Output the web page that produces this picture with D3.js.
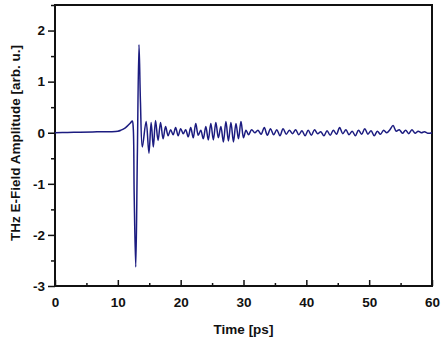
<html lang="en">
  <head>
    <meta charset="UTF-8" />
    <title>THz pulse</title>
    <script src="https://d3js.org/d3.v7.min.js"></script>
    <style>
      * {
        margin: 0;
        padding: 0;
      }
      body {
        background: #fff;
      }
    </style>
  </head>
  <body>
    <div id="chart"></div>
    <script>
      // time points [ps] and field amplitude [arb. u.]
      const times = [
        0, 2, 4, 6, 8, 9, 10, 10.5, 11, 11.5, 12, 12.3, 12.45, 12.6, 12.85,
        13.1, 13.37, 13.6, 13.9, 14.5, 14.95, 15.3, 15.65, 16.0, 16.4, 16.8,
        17.2, 17.6, 18.0, 18.4, 18.8, 19.2, 19.6, 20.0, 20.4, 20.8, 21.2, 21.6,
        22.0, 22.4, 22.8, 23.2, 23.6, 24.0, 24.4, 24.8, 25.2, 25.6, 26.0, 26.4,
        26.8, 27.2, 27.6, 28.0, 28.4, 28.8, 29.2, 29.6, 30.0, 30.4, 30.8, 31.3,
        31.8, 32.3, 32.8, 33.3, 33.8, 34.3, 34.8, 35.3, 35.8, 36.3, 36.8, 37.3,
        37.8, 38.3, 38.8, 39.3, 39.8, 40.3, 40.8, 41.3, 41.8, 42.3, 42.8, 43.3,
        43.8, 44.3, 44.8, 45.3, 45.8, 46.3, 46.8, 47.3, 47.8, 48.3, 48.8, 49.3,
        49.8, 50.3, 50.8, 51.3, 51.8, 52.3, 52.8, 53.3, 53.8, 54.3, 54.8, 55.3,
        55.8, 56.3, 56.8, 57.3, 57.8, 58.3, 58.8, 59.3, 60,
      ];
      const amplitude = [
        0, 0.005, 0.01, 0.015, 0.02, 0.02, 0.03, 0.05, 0.08, 0.13, 0.19, 0.23,
        0.1, -1.2, -2.63, -0.5, 1.72, 0.6, -0.28, 0.22, -0.4, 0.2, -0.28, 0.24,
        -0.15, 0.2, -0.12, 0.12, -0.06, 0.06, -0.04, 0.1, -0.06, 0.08, -0.02,
        0.06, -0.08, 0.1, -0.1, 0.18, -0.05, 0.05, -0.12, 0.12, -0.14, 0.18,
        -0.14, 0.2, -0.1, 0.12, -0.18, 0.22, -0.16, 0.2, -0.18, 0.18, -0.12,
        0.22, -0.1, 0.05, -0.04, 0.06, 0.0, 0.05, -0.03, 0.1, -0.05, 0.08,
        -0.04, 0.06, -0.06, 0.08, -0.03, 0.05, -0.02, 0.06, -0.04, 0.04, -0.06,
        0.05, -0.05, 0.06, -0.02, 0.02, -0.06, 0.04, -0.05, 0.05, -0.03, 0.1,
        -0.02, 0.06, -0.04, 0.03, -0.06, 0.05, -0.03, 0.08, -0.03, 0.04, -0.06,
        0.03, -0.03, 0.05, 0.0, 0.06, 0.14, 0.03, 0.06, -0.01, 0.05, -0.02, 0.06,
        -0.01, 0.03, 0.0, 0.02, -0.01, 0,
      ];
      const xTicks = [0, 10, 20, 30, 40, 50, 60];
      const yTicks = [-3, -2, -1, 0, 1, 2];

      const width = 443;
      const height = 341;
      const MARGIN = { left: 55, right: 11, top: 5, bottom: 55 };
      const innerW = width - MARGIN.left - MARGIN.right;
      const innerH = height - MARGIN.top - MARGIN.bottom;

      const svg = d3
        .select("#chart")
        .append("svg")
        .attr("width", width)
        .attr("height", height);

      const g = svg
        .append("g")
        .attr("transform", `translate(${MARGIN.left},${MARGIN.top})`);

      const x = d3.scaleLinear().domain([0, 60]).range([0, innerW]);
      const y = d3.scaleLinear().domain([-3, 2.5]).range([innerH, 0]);

      const font = "Liberation Sans, Arial, sans-serif";
      const plain = (d) => String(d); // keeps the hyphen minus like the original

      // minor ticks first
      g.append("g")
        .attr("transform", `translate(0,${innerH})`)
        .call(
          d3.axisTop(x).tickValues(d3.range(5, 60, 10)).tickSize(3).tickFormat("")
        );
      g.append("g").call(
        d3.axisLeft(y).tickValues(d3.range(-2.5, 2.6, 1)).tickSize(4).tickFormat("")
      );

      // major ticks, x inward and y outward
      const xAxis = g
        .append("g")
        .attr("transform", `translate(0,${innerH})`)
        .call(
          d3.axisTop(x).tickValues(xTicks).tickSize(6).tickPadding(0).tickFormat(plain)
        );
      xAxis
        .selectAll("text")
        .attr("y", 21)
        .attr("dy", 0);

      g.append("g").call(
        d3.axisLeft(y).tickValues(yTicks).tickSize(7).tickPadding(3).tickFormat(plain)
      );

      g.selectAll(".tick line").attr("stroke", "#111").attr("stroke-width", 1.5);
      g.selectAll(".domain").remove();
      g.selectAll(".tick text")
        .attr("fill", "#111")
        .style("font-family", font)
        .style("font-size", "13.5px")
        .style("font-weight", "bold");

      // frame
      g.append("rect")
        .attr("width", innerW)
        .attr("height", innerH)
        .attr("fill", "none")
        .attr("stroke", "#111")
        .attr("stroke-width", 2);

      const pts = times.map((t, i) => [t, amplitude[i]]);
      const line = d3
        .line()
        .x((d) => x(d[0]))
        .y((d) => y(d[1]))
        .curve(d3.curveCatmullRom.alpha(0.5));

      g.append("path")
        .datum(pts)
        .attr("d", line)
        .attr("fill", "none")
        .attr("stroke", "#1c1c80")
        .attr("stroke-width", 1.5)
        .attr("stroke-linejoin", "round");

      // axis titles
      svg
        .append("text")
        .attr("x", MARGIN.left + innerW / 2)
        .attr("y", 334)
        .attr("text-anchor", "middle")
        .style("font-family", font)
        .style("font-size", "13.5px")
        .style("font-weight", "bold")
        .attr("fill", "#111")
        .text("Time [ps]");

      svg
        .append("text")
        .attr("transform", `translate(20,${MARGIN.top + 138}) rotate(-90)`)
        .attr("text-anchor", "middle")
        .style("font-family", font)
        .style("font-size", "13.5px")
        .style("font-weight", "bold")
        .attr("fill", "#111")
        .text("THz E-Field Amplitude [arb. u.]");
    </script>
  </body>
</html>
